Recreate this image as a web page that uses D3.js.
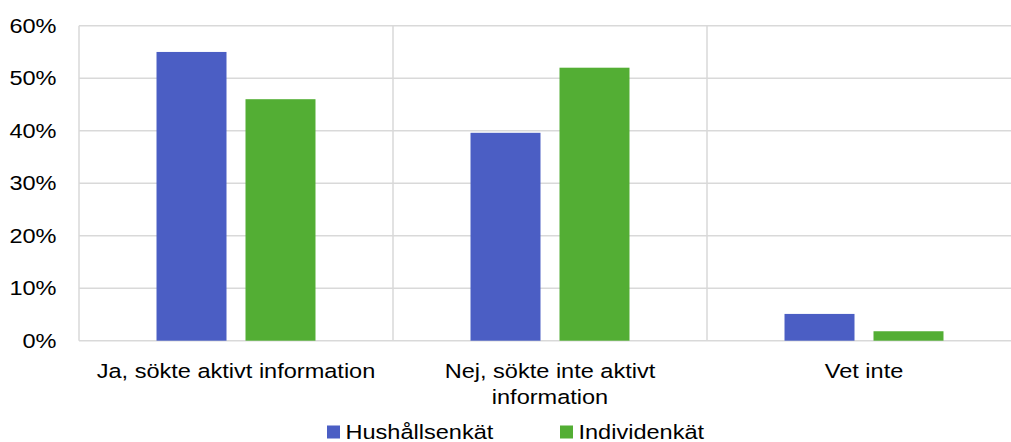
<!DOCTYPE html>
<html>
<head>
<meta charset="utf-8">
<script src="https://cdn.jsdelivr.net/npm/d3@7"></script>
<style>
  html, body { margin: 0; padding: 0; background: #fff; }
  svg { display: block; font-family: "Liberation Sans", Arial, sans-serif; }
</style>
</head>
<body>
<svg id="chart" width="1011" height="442"></svg>
<script>
// Svar per kategori och enkät (andel)
const categories = [
  ["Ja, sökte aktivt information"],
  ["Nej, sökte inte aktivt", "information"],
  ["Vet inte"]
];
const categoryKeys = ["ja", "nej", "vetinte"];
const seriesNames = ["Hushållsenkät", "Individenkät"];
const hushall = [0.55, 0.396, 0.051];
const individ = [0.46, 0.52, 0.018];
const seriesColors = ["#4b5ec4", "#53ae34"];
const yTicks = [0, 0.1, 0.2, 0.3, 0.4, 0.5, 0.6];

const svg = d3.select("#chart");
const plot = { left: 79, right: 1021, top: 25.7, bottom: 340.7 };
const fontSize = 20.3;
const stretchX = 1.16; // textens bredd i förhållande till höjden

const x = d3.scaleBand().domain(categoryKeys).range([plot.left, plot.right]).paddingInner(0).paddingOuter(0);
const xInner = d3.scaleBand().domain(seriesNames).range([0, x.bandwidth()])
  .paddingInner(0.2135).paddingOuter(0.871);
const y = d3.scaleLinear().domain([0, 0.6]).range([plot.bottom, plot.top]);
const pct = d3.format(".0%");

const grid = "#d9d9d9";

// placerar en textrad med horisontell utsträckning
function label(parent, tx, ty, str, anchor) {
  return parent.append("text")
    .attr("transform", `translate(${tx},${ty}) scale(${stretchX},1)`)
    .attr("text-anchor", anchor)
    .attr("font-size", fontSize)
    .attr("fill", "#000")
    .text(str);
}

// horisontella stödlinjer
svg.append("g").selectAll("line").data(yTicks).join("line")
  .attr("x1", plot.left).attr("x2", plot.right)
  .attr("y1", d => y(d)).attr("y2", d => y(d))
  .attr("stroke", grid).attr("stroke-width", 1.5);

// vertikala avgränsare mellan kategorierna
svg.append("g").selectAll("line").data(categoryKeys).join("line")
  .attr("x1", d => x(d)).attr("x2", d => x(d))
  .attr("y1", plot.top).attr("y2", plot.bottom)
  .attr("stroke", grid).attr("stroke-width", 1.5);

// y-axelns etiketter
const ya = svg.append("g");
yTicks.forEach(t => label(ya, 56.5, y(t) + 7, pct(t), "end"));

// staplar
const rows = categoryKeys.map((k, i) => ({ key: k, vals: [hushall[i], individ[i]] }));
const groups = svg.append("g").selectAll("g").data(rows).join("g")
  .attr("transform", d => `translate(${x(d.key)},0)`);
groups.selectAll("rect").data(d => d.vals.map((v, j) => ({ s: seriesNames[j], v, j })))
  .join("rect")
  .attr("x", d => xInner(d.s))
  .attr("width", xInner.bandwidth())
  .attr("y", d => y(d.v))
  .attr("height", d => y(0) - y(d.v))
  .attr("fill", d => seriesColors[d.j]);

// kategorietiketter
const xa = svg.append("g");
categoryKeys.forEach((k, i) => {
  categories[i].forEach((line, li) => {
    label(xa, x(k) + x.bandwidth() / 2, 377.5 + li * 26, line, "middle");
  });
});

// teckenförklaring
const legendX = [327, 560];
const lg = svg.append("g");
seriesNames.forEach((name, i) => {
  lg.append("rect").attr("x", legendX[i]).attr("y", 425.5).attr("width", 13).attr("height", 13)
    .attr("fill", seriesColors[i]);
  label(lg, legendX[i] + 18.5, 438.5, name, "start");
});
</script>
</body>
</html>
